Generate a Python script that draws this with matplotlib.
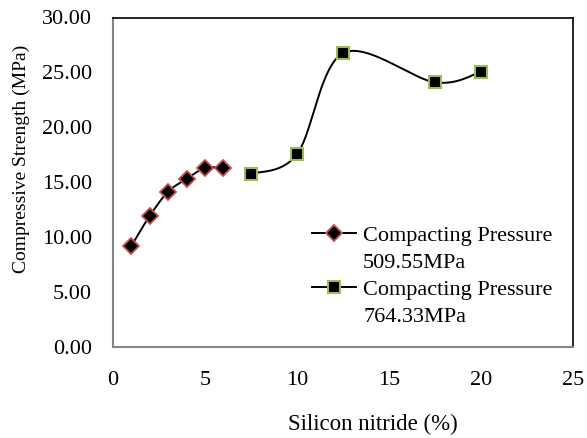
import numpy as np
import matplotlib
matplotlib.use("Agg")
import matplotlib.pyplot as plt
from matplotlib.lines import Line2D

plt.rcParams['font.family'] = ['Liberation Serif', 'DejaVu Serif']

# Compacting pressure 509.55 MPa
si_509 = [1, 2, 3, 4, 5, 6]
strength_509 = [9.2, 11.95, 14.15, 15.3, 16.3, 16.3]
# Compacting pressure 764.33 MPa
si_764 = [7.5, 10, 12.5, 17.5, 20]
strength_764 = [15.75, 17.55, 26.75, 24.1, 25.05]

labels = ["Compacting Pressure", "509.55MPa", "Compacting Pressure", "764.33MPa"]
x_ticks = [0, 5, 10, 15, 20, 25]
y_ticks = [0, 5, 10, 15, 20, 25, 30]


def smooth(ax, xs, ys, n=40):
    # excel-like smoothed line, bezier through the points in pixel space
    pts = ax.transData.transform(np.column_stack([xs, ys]))
    out = [pts[0]]
    t = np.linspace(0, 1, n)[1:, None]
    for i in range(len(pts) - 1):
        p0 = pts[i - 1] if i > 0 else pts[i]
        p1, p2 = pts[i], pts[i + 1]
        p3 = pts[i + 2] if i + 2 < len(pts) else pts[i + 1]
        c1 = p1 + (p2 - p0) / 6
        c2 = p2 - (p3 - p1) / 6
        seg = (1 - t) ** 3 * p1 + 3 * (1 - t) ** 2 * t * c1 + 3 * (1 - t) * t ** 2 * c2 + t ** 3 * p2
        out.extend(seg)
    out = ax.transData.inverted().transform(np.array(out))
    return out[:, 0], out[:, 1]


fig = plt.figure(figsize=(5.87, 4.38), dpi=100)
ax = fig.add_axes([113 / 587, 1 - 347 / 438, (573 - 113) / 587, (347 - 17.5) / 438])
ax.set_xlim(0, 25)
ax.set_ylim(0, 30)

red = "#c0504d"
green = "#9bbb59"
d_style = dict(marker="D", ms=8.3, mfc="black", mec=red, mew=1.3)
s_style = dict(marker="s", ms=9, mfc="black", mec=green, mew=1.5)

sx, sy = smooth(ax, si_509, strength_509)
ax.plot(sx, sy, color="black", lw=1.4, zorder=2)
ax.plot(si_509, strength_509, linestyle="none", zorder=3, **d_style)

sx, sy = smooth(ax, si_764, strength_764)
ax.plot(sx, sy, color="black", lw=1.4, zorder=2)
ax.plot(si_764, strength_764, linestyle="none", zorder=3, **s_style)

ax.set_xticks(x_ticks)
ax.set_yticks(y_ticks)
ax.set_yticklabels([f"{v:.2f}" for v in y_ticks])
ax.tick_params(length=0, labelsize=16)
ax.tick_params(axis="y", pad=15)
ax.tick_params(axis="x", pad=17)

for side in ["left", "bottom"]:
    ax.spines[side].set_color("#868686")
    ax.spines[side].set_linewidth(1.5)
for side in ["top", "right"]:
    ax.spines[side].set_color("black")
    ax.spines[side].set_linewidth(1.2)

fig.text(373 / 587, 1 - 424 / 438, "Silicon nitride (%)", ha="center", va="center", fontsize=16.5)
fig.text(21 / 587, 1 - 159 / 438, "Compressive Strength (MPa)", ha="center", va="center",
         rotation=90, fontsize=14)

blank = Line2D([], [], linestyle="none")
h1 = Line2D([], [], color="black", lw=1.4, **d_style)
h2 = Line2D([], [], color="black", lw=1.4, **s_style)
fig.legend([h1, blank, h2, blank], labels, loc="upper left",
           bbox_to_anchor=(312 / 587, 1 - 225 / 438), frameon=False, fontsize=16,
           borderpad=0, borderaxespad=0, labelspacing=0.3, handlelength=2.0,
           handletextpad=0.3)

fig.savefig("out.png", dpi=100)
